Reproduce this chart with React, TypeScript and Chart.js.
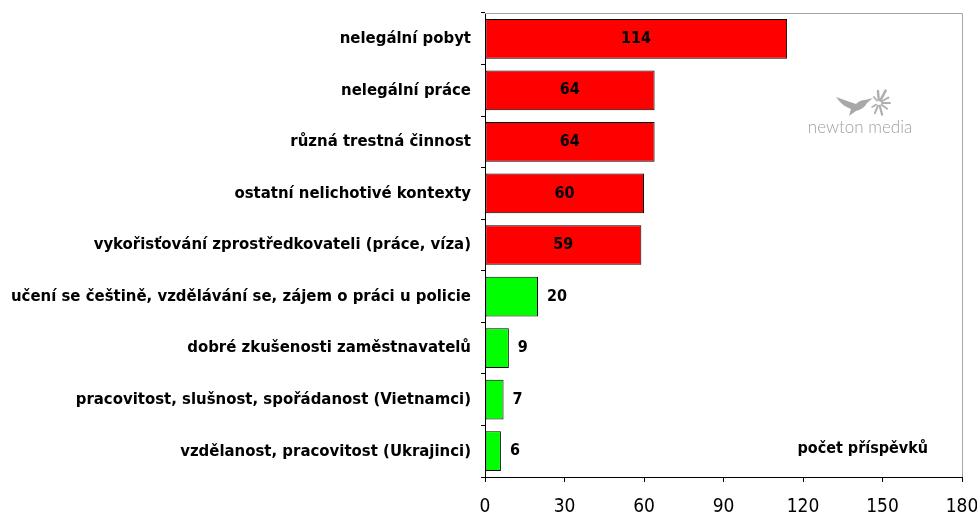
import React, { useEffect, useRef } from 'react';
import { Chart, registerables } from 'chart.js';

Chart.register(...registerables);

const categories = [
  'nelegální pobyt',
  'nelegální práce',
  'různá trestná činnost',
  'ostatní nelichotivé kontexty',
  'vykořisťování zprostředkovateli (práce, víza)',
  'učení se češtině, vzdělávání se, zájem o práci u policie',
  'dobré zkušenosti zaměstnavatelů',
  'pracovitost, slušnost, spořádanost (Vietnamci)',
  'vzdělanost, pracovitost (Ukrajinci)',
];
const values = [114, 64, 64, 60, 59, 20, 9, 7, 6];
const tone = ['neg', 'neg', 'neg', 'neg', 'neg', 'pos', 'pos', 'pos', 'pos'];
const xMin = 0;
const xMax = 180;
const xStep = 30;
const axisNote = 'počet příspěvků';
const watermarkText = 'newton media';

const RED = '#ff0000';
const GREEN = '#00ff00';
const FONT = '"DejaVu Sans Condensed", "DejaVu Sans", sans-serif';
const TICK_FONT = '"Liberation Sans Narrow", "DejaVu Sans Condensed", sans-serif';

export default function App() {
  const ref = useRef<HTMLCanvasElement | null>(null);

  useEffect(() => {
    const canvas = ref.current;
    if (!canvas) return;

    const frame = {
      id: 'frame',
      beforeDatasetsDraw(chart: any) {
        const { ctx, chartArea: a } = chart;
        ctx.save();
        ctx.strokeStyle = '#a6a6a6';
        ctx.lineWidth = 1;
        ctx.beginPath();
        ctx.moveTo(a.left, a.top + 0.5);
        ctx.lineTo(a.right + 0.5, a.top + 0.5);
        ctx.lineTo(a.right + 0.5, a.bottom);
        ctx.stroke();
        ctx.restore();
      },
    };

    const labelsPlugin = {
      id: 'valueLabels',
      afterDatasetsDraw(chart: any) {
        const { ctx } = chart;
        const meta = chart.getDatasetMeta(0);
        const xs = chart.scales.x;
        ctx.save();
        ctx.font = `bold 16px ${FONT}`;
        ctx.fillStyle = '#000';
        ctx.textBaseline = 'middle';
        meta.data.forEach((bar: any, i: number) => {
          const v = values[i];
          if (tone[i] === 'neg') {
            ctx.textAlign = 'center';
            ctx.fillText(String(v), (xs.getPixelForValue(0) + bar.x) / 2, bar.y);
          } else {
            ctx.textAlign = 'left';
            ctx.fillText(String(v), bar.x + 9, bar.y);
          }
        });
        const a = chart.chartArea;
        ctx.textAlign = 'right';
        ctx.font = `bold 16px ${FONT}`;
        ctx.fillText(axisNote, a.right - 34, meta.data[meta.data.length - 1].y - 2);
        ctx.restore();
      },
    };

    const watermark = {
      id: 'watermark',
      afterDatasetsDraw(chart: any) {
        const { ctx } = chart;
        ctx.save();
        ctx.fillStyle = '#a8a8a8';
        ctx.strokeStyle = '#b0b0b0';
        // hummingbird silhouette
        ctx.beginPath();
        ctx.moveTo(849, 116);
        ctx.lineTo(851, 109);
        ctx.quadraticCurveTo(842, 106, 836, 97);
        ctx.quadraticCurveTo(847, 101, 856, 104);
        ctx.quadraticCurveTo(860, 100, 865, 100);
        ctx.lineTo(873, 98);
        ctx.lineTo(867, 103);
        ctx.quadraticCurveTo(864, 109, 856, 111);
        ctx.lineTo(849, 116);
        ctx.closePath();
        ctx.fill();
        // spray
        ctx.lineCap = 'round';
        const ox = 879;
        const oy = 103;
        const rays: number[][] = [
          [-95, 9, 2.4], [-62, 11, 2.6], [-30, 8, 2], [0, 8, 2], [35, 7, 2], [75, 9, 2.2], [112, 8, 2], [150, 5, 1.6], [-130, 5, 1.6],
        ];
        rays.forEach(([deg, len, w]) => {
          const r = (deg * Math.PI) / 180;
          ctx.lineWidth = w;
          ctx.beginPath();
          ctx.moveTo(ox + Math.cos(r) * 3, oy + Math.sin(r) * 3);
          ctx.lineTo(ox + Math.cos(r) * (3 + len), oy + Math.sin(r) * (3 + len));
          ctx.stroke();
        });
        ctx.font = '300 17px Lato, "DejaVu Sans", sans-serif';
        ctx.textAlign = 'center';
        ctx.textBaseline = 'middle';
        ctx.fillStyle = '#a0a0a0';
        ctx.fillText(watermarkText, 860, 128);
        ctx.restore();
      },
    };

    const chart = new Chart(canvas, {
      type: 'bar',
      data: {
        labels: categories,
        datasets: [
          {
            data: values,
            backgroundColor: tone.map((t) => (t === 'neg' ? RED : GREEN)),
            borderColor: '#000',
            borderWidth: 1,
            borderSkipped: false,
            categoryPercentage: 1,
            barPercentage: 0.77,
          },
        ],
      },
      options: {
        indexAxis: 'y',
        animation: false,
        responsive: false,
        maintainAspectRatio: false,
        layout: { padding: { top: 13, right: 15, left: 0, bottom: 0 } },
        plugins: {
          legend: { display: false },
          tooltip: { enabled: false },
          title: { display: false },
        },
        scales: {
          x: {
            type: 'linear',
            min: xMin,
            max: xMax,
            ticks: {
              stepSize: xStep,
              color: '#000',
              font: { family: TICK_FONT, size: 19 },
              padding: 14,
              maxRotation: 0,
            },
            grid: {
              drawOnChartArea: false,
              drawTicks: true,
              tickLength: 5,
              color: '#000',
            },
            border: { display: true, color: '#000', width: 1 },
            afterFit(scale: any) {
              scale.height = 37;
              scale.paddingRight = 0;
              scale.paddingLeft = 0;
            },
          },
          y: {
            type: 'category',
            ticks: {
              color: '#000',
              font: { family: FONT, size: 16.6, weight: 'bold' },
              padding: 10,
              autoSkip: false,
            },
            grid: {
              offset: true,
              drawOnChartArea: false,
              drawTicks: true,
              tickLength: 4,
              color: '#000',
            },
            border: { display: true, color: '#000', width: 1 },
            afterFit(scale: any) {
              scale.width = 485;
              scale.paddingTop = 0;
              scale.paddingBottom = 0;
            },
          },
        },
      },
      plugins: [frame, labelsPlugin, watermark],
    });

    return () => chart.destroy();
  }, []);

  return (
    <div style={{ position: 'absolute', left: 0, top: 0, width: 977, height: 514, background: '#fff' }}>
      <canvas ref={ref} width={977} height={514} style={{ display: 'block', width: 977, height: 514 }} />
    </div>
  );
}
